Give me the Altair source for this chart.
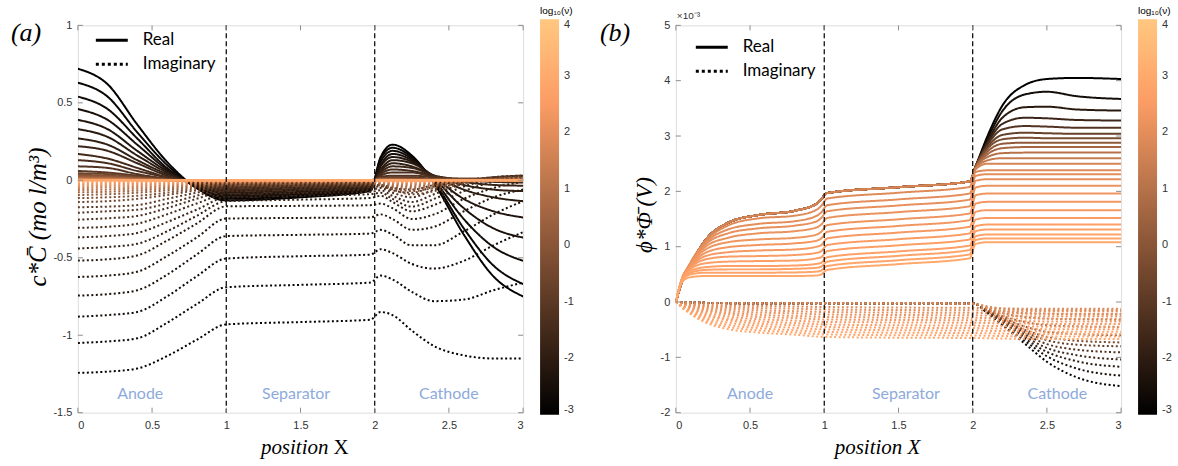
import altair as alt
import pandas as pd

# ---------------- Panel (a): concentration ----------------
XA = [0, 0.2, 0.4, 0.6, 0.8, 1.0, 1.5, 1.97, 2.04, 2.12, 2.25, 2.4, 2.6, 2.8, 3.0]
A_FREQ = [-3.0, -2.82, -2.64, -2.46, -2.28, -2.1, -1.92, -1.74, -1.56, -1.38, -1.2, -1.02,
          -0.6, -0.2, 0.2, 0.6, 1.0, 1.4, 1.8, 2.1, 2.3, 2.5, 2.7, 2.9]
A_REAL = [
    [0.72, 0.62, 0.36, 0.12, -0.05, -0.13, -0.11, -0.07, 0.15, 0.23, 0.16, -0.02, -0.35, -0.62, -0.75],
    [0.63, 0.54, 0.31, 0.10, -0.05, -0.12, -0.10, -0.065, 0.14, 0.21, 0.15, -0.01, -0.31, -0.55, -0.67],
    [0.54, 0.46, 0.27, 0.08, -0.04, -0.11, -0.09, -0.06, 0.12, 0.19, 0.14, 0.0, -0.25, -0.43, -0.52],
    [0.46, 0.39, 0.23, 0.07, -0.04, -0.10, -0.085, -0.055, 0.10, 0.17, 0.13, 0.01, -0.18, -0.31, -0.37],
    [0.39, 0.33, 0.19, 0.06, -0.03, -0.09, -0.075, -0.05, 0.09, 0.15, 0.12, 0.02, -0.12, -0.20, -0.24],
    [0.33, 0.28, 0.16, 0.05, -0.03, -0.08, -0.065, -0.045, 0.07, 0.13, 0.11, 0.03, -0.06, -0.11, -0.135],
    [0.27, 0.23, 0.13, 0.04, -0.02, -0.07, -0.055, -0.04, 0.06, 0.11, 0.09, 0.03, -0.03, -0.06, -0.07],
    [0.22, 0.19, 0.11, 0.03, -0.02, -0.06, -0.045, -0.03, 0.05, 0.09, 0.08, 0.03, -0.01, -0.03, -0.035],
    [0.17, 0.14, 0.08, 0.02, -0.02, -0.05, -0.035, -0.025, 0.04, 0.07, 0.06, 0.03, 0.0, -0.01, -0.015],
    [0.13, 0.11, 0.06, 0.02, -0.01, -0.04, -0.03, -0.02, 0.03, 0.05, 0.05, 0.02, 0.0, 0.0, 0.0],
    [0.09, 0.08, 0.04, 0.01, -0.01, -0.03, -0.02, -0.015, 0.02, 0.03, 0.03, 0.02, 0.01, 0.01, 0.01],
    [0.06, 0.05, 0.03, 0.01, -0.01, -0.02, -0.015, -0.01, 0.01, 0.02, 0.02, 0.01, 0.01, 0.01, 0.01],
    [0.045, 0.04, 0.022, 0.006, -0.006, -0.015, -0.01, 0.0, 0.015, 0.015, 0.012, 0.008, 0.006, 0.006, 0.006],
    [0.035, 0.03, 0.017, 0.004, -0.004, -0.01, -0.007, 0.0, 0.01, 0.01, 0.008, 0.006, 0.004, 0.004, 0.004],
    [0.026, 0.022, 0.012, 0.003, -0.003, -0.007, -0.005, 0.0, 0.007, 0.007, 0.006, 0.004, 0.003, 0.003, 0.003],
    [0.018, 0.015, 0.008, 0.002, -0.002, -0.005, -0.003, 0.0, 0.005, 0.005, 0.004, 0.003, 0.002, 0.002, 0.002],
    [0.012, 0.01, 0.005, 0.001, -0.001, -0.003, -0.002, 0.0, 0.003, 0.003, 0.002, 0.002, 0.001, 0.001, 0.001],
    [0.008, 0.006, 0.003, 0.001, 0.0, -0.002, -0.001, 0.0, 0.002, 0.002, 0.001, 0.001, 0.001, 0.0, 0.0],
    [0.005, 0.004, 0.002, 0.0, 0.0, -0.001, -0.001, 0.0, 0.001, 0.001, 0.001, 0.0, 0.0, 0.0, 0.0],
    [0.003, 0.002, 0.001, 0.0, 0.0, -0.001, 0.0, 0.0, 0.001, 0.001, 0.0, 0.0, 0.0, 0.0, 0.0],
    [0.002, 0.001, 0.001, 0.0, 0.0, 0.0, 0.0, 0.0, 0.0, 0.0, 0.0, 0.0, 0.0, 0.0, 0.0],
    [0.001, 0.001, 0.0, 0.0, 0.0, 0.0, 0.0, 0.0, 0.0, 0.0, 0.0, 0.0, 0.0, 0.0, 0.0],
    [0.0, 0.0, 0.0, 0.0, 0.0, 0.0, 0.0, 0.0, 0.0, 0.0, 0.0, 0.0, 0.0, 0.0, 0.0],
    [0.0, 0.0, 0.0, 0.0, 0.0, 0.0, 0.0, 0.0, 0.0, 0.0, 0.0, 0.0, 0.0, 0.0, 0.0],
]
A_IMAG = [
    [-1.243, -1.235, -1.215, -1.135, -1.03, -0.93, -0.915, -0.90, -0.85, -0.87, -0.97, -1.07, -1.13, -1.15, -1.15],
    [-1.05, -1.04, -1.02, -0.92, -0.80, -0.69, -0.675, -0.66, -0.615, -0.64, -0.72, -0.78, -0.77, -0.71, -0.66],
    [-0.88, -0.87, -0.85, -0.75, -0.62, -0.505, -0.49, -0.48, -0.445, -0.47, -0.54, -0.57, -0.52, -0.42, -0.335],
    [-0.744, -0.735, -0.71, -0.61, -0.48, -0.36, -0.352, -0.344, -0.32, -0.35, -0.42, -0.42, -0.33, -0.22, -0.135],
    [-0.624, -0.615, -0.59, -0.49, -0.37, -0.247, -0.243, -0.24, -0.22, -0.25, -0.32, -0.30, -0.20, -0.11, -0.06],
    [-0.518, -0.51, -0.485, -0.39, -0.28, -0.168, -0.165, -0.161, -0.15, -0.18, -0.25, -0.22, -0.12, -0.05, -0.01],
    [-0.44, -0.43, -0.41, -0.33, -0.23, -0.135, -0.125, -0.114, -0.10, -0.14, -0.20, -0.16, -0.07, -0.01, 0.02],
    [-0.368, -0.36, -0.34, -0.27, -0.19, -0.11, -0.10, -0.09, -0.08, -0.12, -0.17, -0.12, -0.04, 0.01, 0.03],
    [-0.307, -0.30, -0.28, -0.22, -0.15, -0.09, -0.082, -0.075, -0.065, -0.10, -0.14, -0.09, -0.02, 0.02, 0.03],
    [-0.254, -0.245, -0.23, -0.18, -0.12, -0.07, -0.065, -0.06, -0.05, -0.08, -0.11, -0.06, -0.01, 0.02, 0.03],
    [-0.21, -0.20, -0.19, -0.15, -0.10, -0.055, -0.05, -0.045, -0.04, -0.065, -0.08, -0.04, 0.0, 0.02, 0.03],
    [-0.174, -0.17, -0.16, -0.12, -0.08, -0.045, -0.04, -0.035, -0.03, -0.05, -0.06, -0.03, 0.0, 0.015, 0.025],
    [-0.14, -0.135, -0.12, -0.095, -0.065, -0.04, -0.035, -0.03, -0.035, -0.06, -0.09, -0.07, -0.02, 0.01, 0.02],
    [-0.115, -0.11, -0.10, -0.08, -0.055, -0.033, -0.028, -0.024, -0.028, -0.05, -0.07, -0.05, -0.015, 0.008, 0.015],
    [-0.095, -0.09, -0.08, -0.065, -0.045, -0.027, -0.022, -0.019, -0.022, -0.04, -0.055, -0.038, -0.01, 0.006, 0.012],
    [-0.078, -0.074, -0.066, -0.053, -0.037, -0.022, -0.018, -0.015, -0.018, -0.032, -0.043, -0.028, -0.008, 0.004, 0.009],
    [-0.063, -0.06, -0.053, -0.043, -0.03, -0.018, -0.014, -0.012, -0.014, -0.025, -0.033, -0.02, -0.006, 0.003, 0.007],
    [-0.05, -0.047, -0.042, -0.034, -0.024, -0.014, -0.011, -0.009, -0.011, -0.019, -0.025, -0.015, -0.004, 0.002, 0.005],
    [-0.039, -0.036, -0.032, -0.026, -0.018, -0.011, -0.008, -0.007, -0.008, -0.014, -0.018, -0.011, -0.003, 0.001, 0.004],
    [-0.03, -0.027, -0.024, -0.019, -0.013, -0.008, -0.006, -0.005, -0.006, -0.01, -0.013, -0.008, -0.002, 0.001, 0.003],
    [-0.022, -0.02, -0.017, -0.014, -0.009, -0.006, -0.004, -0.003, -0.004, -0.007, -0.009, -0.005, -0.001, 0.0, 0.002],
    [-0.015, -0.013, -0.011, -0.009, -0.006, -0.004, -0.003, -0.002, -0.003, -0.005, -0.006, -0.003, -0.001, 0.0, 0.001],
    [-0.009, -0.008, -0.007, -0.005, -0.004, -0.002, -0.002, -0.001, -0.002, -0.003, -0.004, -0.002, 0.0, 0.0, 0.001],
    [-0.004, -0.004, -0.003, -0.002, -0.002, -0.001, -0.001, 0.0, -0.001, -0.001, -0.002, -0.001, 0.0, 0.0, 0.0],
]

# ---------------- Panel (b): potential (x 1e-3 V) ----------------
XB_REAL = [0, 0.04, 0.1, 0.2, 0.35, 0.55, 0.8, 0.95, 0.98, 1.02, 1.5, 1.98,
           2.02, 2.1, 2.2, 2.35, 2.5, 2.7, 3.0]
XB_IMAG = [0, 0.04, 0.1, 0.2, 0.35, 0.55, 0.8, 1.0, 1.5, 2.0, 2.1, 2.2, 2.35, 2.5, 2.7, 3.0]
B_FREQ = [-3.0, -2.55, -2.1, -1.65, -1.2, -0.75, -0.3, 0.15, 0.6, 1.0, 1.35, 1.7,
          1.9, 2.0, 2.08, 2.16, 2.24, 2.32, 2.4, 2.48, 2.56, 2.64, 2.72, 2.8, 2.9]

B_REAL_DARK_HEAD = [0, 0.36, 0.68, 1.12, 1.43, 1.57, 1.65, 1.78, 1.86, 1.97, 2.075, 2.18]
B_REAL_DARK_TAIL = [
    [2.45, 3.0, 3.55, 3.92, 4.03, 4.05, 4.03],
    [2.45, 2.95, 3.45, 3.75, 3.8, 3.72, 3.67],
    [2.45, 2.9, 3.33, 3.52, 3.53, 3.48, 3.46],
    [2.45, 2.87, 3.22, 3.33, 3.32, 3.29, 3.28],
    [2.45, 2.84, 3.12, 3.18, 3.17, 3.15, 3.15],
    [2.45, 2.8, 3.02, 3.06, 3.05, 3.04, 3.04],
    [2.45, 2.77, 2.94, 2.97, 2.96, 2.96, 2.96],
    [2.44, 2.72, 2.86, 2.88, 2.88, 2.88, 2.88],
    [2.43, 2.67, 2.78, 2.8, 2.8, 2.8, 2.8],
    [2.42, 2.62, 2.69, 2.7, 2.7, 2.7, 2.7],
    [2.41, 2.56, 2.6, 2.6, 2.6, 2.6, 2.6],
    [2.4, 2.5, 2.5, 2.5, 2.5, 2.5, 2.5],
]
B_REAL_LIGHT = [
    [0, 0.38, 0.72, 1.10, 1.38, 1.51, 1.56, 1.67, 1.74, 1.87, 1.975, 2.08, 2.35, 2.38, 2.38, 2.38, 2.38, 2.38, 2.38],
    [0, 0.39, 0.71, 1.07, 1.31, 1.41, 1.46, 1.56, 1.62, 1.75, 1.855, 1.96, 2.28, 2.31, 2.31, 2.31, 2.31, 2.31, 2.31],
    [0, 0.40, 0.70, 1.04, 1.24, 1.33, 1.38, 1.46, 1.52, 1.64, 1.745, 1.85, 2.19, 2.22, 2.22, 2.22, 2.22, 2.22, 2.22],
    [0, 0.41, 0.69, 1.00, 1.16, 1.24, 1.28, 1.35, 1.40, 1.52, 1.625, 1.73, 2.07, 2.10, 2.10, 2.10, 2.10, 2.10, 2.10],
    [0, 0.41, 0.68, 0.95, 1.08, 1.13, 1.16, 1.22, 1.27, 1.39, 1.495, 1.60, 1.93, 1.96, 1.96, 1.96, 1.96, 1.96, 1.96],
    [0, 0.41, 0.66, 0.89, 0.99, 1.03, 1.06, 1.11, 1.15, 1.27, 1.375, 1.48, 1.78, 1.81, 1.81, 1.81, 1.81, 1.81, 1.81],
    [0, 0.41, 0.64, 0.83, 0.90, 0.93, 0.95, 1.00, 1.03, 1.15, 1.255, 1.36, 1.63, 1.66, 1.66, 1.66, 1.66, 1.66, 1.66],
    [0, 0.40, 0.62, 0.77, 0.82, 0.83, 0.85, 0.89, 0.92, 1.03, 1.135, 1.24, 1.49, 1.52, 1.52, 1.52, 1.52, 1.52, 1.52],
    [0, 0.40, 0.60, 0.70, 0.73, 0.74, 0.75, 0.79, 0.81, 0.92, 1.025, 1.13, 1.37, 1.40, 1.40, 1.40, 1.40, 1.40, 1.40],
    [0, 0.39, 0.56, 0.63, 0.65, 0.65, 0.66, 0.69, 0.71, 0.81, 0.915, 1.02, 1.28, 1.31, 1.31, 1.31, 1.31, 1.31, 1.31],
    [0, 0.38, 0.53, 0.58, 0.59, 0.59, 0.60, 0.62, 0.64, 0.73, 0.835, 0.94, 1.19, 1.22, 1.22, 1.22, 1.22, 1.22, 1.22],
    [0, 0.37, 0.50, 0.53, 0.53, 0.53, 0.535, 0.55, 0.57, 0.65, 0.755, 0.86, 1.12, 1.15, 1.15, 1.15, 1.15, 1.15, 1.15],
    [0, 0.36, 0.45, 0.47, 0.47, 0.47, 0.47, 0.48, 0.50, 0.58, 0.685, 0.79, 1.05, 1.08, 1.08, 1.08, 1.08, 1.08, 1.08],
]
B_IMAG_DARK_HEAD = [0, -0.005, -0.01, -0.015, -0.02, -0.02, -0.02, -0.02, -0.02]
B_IMAG_DARK_TAIL = [
    [-0.02, -0.2, -0.42, -0.75, -1.08, -1.36, -1.52],
    [-0.02, -0.19, -0.4, -0.7, -0.98, -1.2, -1.33],
    [-0.02, -0.18, -0.38, -0.66, -0.9, -1.07, -1.17],
    [-0.02, -0.17, -0.36, -0.62, -0.83, -0.96, -1.04],
    [-0.02, -0.16, -0.34, -0.58, -0.76, -0.86, -0.91],
    [-0.03, -0.16, -0.32, -0.54, -0.69, -0.77, -0.8],
    [-0.03, -0.15, -0.3, -0.5, -0.63, -0.7, -0.73],
    [-0.03, -0.14, -0.28, -0.44, -0.54, -0.58, -0.6],
    [-0.03, -0.13, -0.25, -0.36, -0.42, -0.44, -0.45],
    [-0.03, -0.12, -0.2, -0.27, -0.3, -0.31, -0.32],
    [-0.03, -0.1, -0.16, -0.2, -0.21, -0.22, -0.22],
    [-0.03, -0.08, -0.12, -0.14, -0.15, -0.15, -0.15],
]
B_IMAG_LIGHT = [
    [0, -0.015, -0.03, -0.045, -0.06, -0.07, -0.08, -0.09, -0.1, -0.105, -0.11, -0.115, -0.12, -0.12, -0.12, -0.12],
    [0, -0.025, -0.045, -0.07, -0.09, -0.11, -0.12, -0.135, -0.145, -0.15, -0.155, -0.16, -0.165, -0.165, -0.165, -0.165],
    [0, -0.03, -0.06, -0.09, -0.12, -0.15, -0.165, -0.18, -0.19, -0.195, -0.2, -0.205, -0.21, -0.21, -0.21, -0.21],
    [0, -0.04, -0.075, -0.115, -0.155, -0.19, -0.205, -0.225, -0.235, -0.24, -0.245, -0.25, -0.255, -0.255, -0.255, -0.255],
    [0, -0.045, -0.09, -0.14, -0.19, -0.23, -0.25, -0.27, -0.28, -0.285, -0.29, -0.295, -0.3, -0.3, -0.3, -0.3],
    [0, -0.05, -0.1, -0.16, -0.22, -0.27, -0.29, -0.315, -0.325, -0.33, -0.335, -0.34, -0.345, -0.35, -0.35, -0.35],
    [0, -0.06, -0.12, -0.19, -0.26, -0.31, -0.335, -0.36, -0.37, -0.375, -0.38, -0.385, -0.39, -0.395, -0.395, -0.395],
    [0, -0.07, -0.14, -0.22, -0.3, -0.35, -0.38, -0.405, -0.42, -0.425, -0.43, -0.435, -0.44, -0.445, -0.445, -0.445],
    [0, -0.075, -0.16, -0.25, -0.33, -0.39, -0.42, -0.45, -0.465, -0.47, -0.475, -0.48, -0.485, -0.49, -0.49, -0.49],
    [0, -0.08, -0.17, -0.28, -0.37, -0.43, -0.465, -0.495, -0.51, -0.515, -0.52, -0.525, -0.53, -0.535, -0.535, -0.535],
    [0, -0.085, -0.19, -0.31, -0.41, -0.47, -0.51, -0.54, -0.555, -0.56, -0.565, -0.57, -0.575, -0.58, -0.58, -0.58],
    [0, -0.09, -0.2, -0.34, -0.45, -0.51, -0.55, -0.585, -0.6, -0.605, -0.61, -0.615, -0.62, -0.625, -0.625, -0.625],
    [0, -0.1, -0.22, -0.37, -0.49, -0.55, -0.59, -0.63, -0.645, -0.65, -0.655, -0.66, -0.665, -0.67, -0.67, -0.67],
]
B_REAL = [B_REAL_DARK_HEAD + t for t in B_REAL_DARK_TAIL] + B_REAL_LIGHT
B_IMAG = [B_IMAG_DARK_HEAD + t for t in B_IMAG_DARK_TAIL] + B_IMAG_LIGHT

REGIONS = ["Anode", "Separator", "Cathode"]
A_REGION_X = [0.42, 1.47, 2.5]
B_REGION_X = [0.5, 1.55, 2.57]
X_TICKS = [0, 0.5, 1, 1.5, 2, 2.5, 3]
A_Y_TICKS = [-1.5, -1, -0.5, 0, 0.5, 1]
B_Y_TICKS = [-2, -1, 0, 1, 2, 3, 4, 5]
CBAR_TICKS = [-3, -2, -1, 0, 1, 2, 3, 4]


def build(freqs, xr, reals, xi, imags):
    rows = []
    for i, f in enumerate(freqs):
        for kind, grid, vals in (("Real", xr, reals[i]), ("Imaginary", xi, imags[i])):
            assert len(grid) == len(vals), (i, kind, len(vals))
            cid = "%02d%s" % (i, "a" if kind == "Real" else "b")
            for x, y in zip(grid, vals):
                rows.append({"curve": cid, "x": x, "y": y, "logf": f, "kind": kind})
    return pd.DataFrame(rows)


dfA = build(A_FREQ, XA, A_REAL, XA, A_IMAG)
dfB = build(B_FREQ, XB_REAL, B_REAL, XB_IMAG, B_IMAG)

W, H = 446, 388
SERIF = "Liberation Serif"
SANS = "Liberation Sans"
FRAME = "#8c8c8c"
one = pd.DataFrame({"k": [0]})


def panel(df, ydom, yticks, region_x, region_y, letter, ytitle, ytitle_x, ytitle_size,
          ytitle_y, leg_y0, leg_x0, xt_center, split_title):
    xs = alt.Scale(domain=[0, 3], nice=False)
    ys = alt.Scale(domain=ydom, nice=False)
    xaxis = alt.Axis(values=X_TICKS, labelExpr="'' + datum.value", title=None, grid=False,
                     ticks=False, domain=False, labelFont=SANS, labelFontSize=11,
                     labelColor="#333333", labelPadding=7)
    yaxis = alt.Axis(values=yticks, labelExpr="'' + datum.value", title=None, grid=False,
                     ticks=False, domain=False, labelFont=SANS, labelFontSize=11,
                     labelColor="#333333", labelPadding=6)
    lines = alt.Chart(df).mark_line(strokeWidth=2, interpolate="monotone", clip=True).encode(
        x=alt.X("x:Q", scale=xs, axis=xaxis),
        y=alt.Y("y:Q", scale=ys, axis=yaxis),
        color=alt.Color("logf:Q",
                        scale=alt.Scale(domain=[-3, 2.6, 4],
                                        range=["#000000", "#ff9f66", "#ffc77f"],
                                        interpolate="rgb"),
                        legend=alt.Legend(orient="none", legendX=W + 17, legendY=-19,
                                          direction="vertical", gradientLength=396,
                                          gradientThickness=19, title="log₁₀(ν)",
                                          titleFont=SANS, titleFontSize=10,
                                          titleFontWeight="normal", titlePadding=3,
                                          labelFont=SANS, labelFontSize=11,
                                          labelColor="#333333", values=CBAR_TICKS,
                                          labelExpr="'' + datum.value", padding=0,
                                          gradientStrokeWidth=0, labelOffset=5)),
        strokeDash=alt.StrokeDash("kind:N",
                                  scale=alt.Scale(domain=["Real", "Imaginary"],
                                                  range=[[1, 0], [2, 2.5]]),
                                  legend=None),
        detail="curve:N",
    )
    bounds = pd.DataFrame({"bx": [1, 2]})
    rules = alt.Chart(bounds).mark_rule(color="#111111", strokeWidth=1.3,
                                        strokeDash=[5, 3]).encode(x=alt.X("bx:Q", scale=xs))
    reg = pd.DataFrame({"name": REGIONS, "rx": region_x, "ry": [region_y] * 3})
    regions = alt.Chart(reg).mark_text(font="Lato", fontSize=16, color="#8eaadc").encode(
        x=alt.X("rx:Q", scale=xs), y=alt.Y("ry:Q", scale=ys), text="name:N")

    xt = pd.DataFrame({"tx": X_TICKS})
    yt = pd.DataFrame({"ty": yticks})
    tick_layers = [
        alt.Chart(xt).mark_rule(color=FRAME).encode(
            x=alt.X("tx:Q", scale=xs), y=alt.value(H), y2=alt.value(H - 5)),
        alt.Chart(xt).mark_rule(color=FRAME).encode(
            x=alt.X("tx:Q", scale=xs), y=alt.value(0), y2=alt.value(5)),
        alt.Chart(yt).mark_rule(color=FRAME).encode(
            y=alt.Y("ty:Q", scale=ys), x=alt.value(0), x2=alt.value(5)),
        alt.Chart(yt).mark_rule(color=FRAME).encode(
            y=alt.Y("ty:Q", scale=ys), x=alt.value(W), x2=alt.value(W - 5)),
    ]

    base = alt.Chart(one)
    deco = [
        base.mark_rule(color="black", strokeWidth=3).encode(
            x=alt.value(leg_x0), x2=alt.value(leg_x0 + 32), y=alt.value(leg_y0)),
        base.mark_rule(color="black", strokeWidth=3, strokeDash=[3, 3]).encode(
            x=alt.value(leg_x0), x2=alt.value(leg_x0 + 32), y=alt.value(leg_y0 + 24)),
        base.mark_text(text="Real", font="Lato", fontSize=17, align="left",
                       baseline="middle", color="black").encode(
            x=alt.value(leg_x0 + 47), y=alt.value(leg_y0)),
        base.mark_text(text="Imaginary", font="Lato", fontSize=17, align="left",
                       baseline="middle", color="black").encode(
            x=alt.value(leg_x0 + 47), y=alt.value(leg_y0 + 24)),
        base.mark_text(text=letter[0], font=SERIF, fontSize=26, fontStyle="italic",
                       align="left", baseline="middle", color="black").encode(
            x=alt.value(letter[1]), y=alt.value(8)),
        base.mark_text(text=ytitle, font=SERIF, fontSize=ytitle_size, fontStyle="italic",
                       align="center", baseline="middle", angle=270, color="black").encode(
            x=alt.value(ytitle_x), y=alt.value(ytitle_y)),
    ]
    if split_title:
        deco += [
            base.mark_text(text="position", font=SERIF, fontSize=21, fontStyle="italic",
                           align="right", baseline="middle", color="black").encode(
                x=alt.value(xt_center + 27), y=alt.value(H + 35)),
            base.mark_text(text="X", font=SERIF, fontSize=21, align="left",
                           baseline="middle", color="black").encode(
                x=alt.value(xt_center + 32), y=alt.value(H + 35)),
        ]
    else:
        deco += [
            base.mark_text(text="position X", font=SERIF, fontSize=21, fontStyle="italic",
                           align="center", baseline="middle", color="black").encode(
                x=alt.value(xt_center), y=alt.value(H + 35)),
            base.mark_text(text="×10⁻³", font=SANS, fontSize=10, align="left",
                           baseline="middle", color="#333333").encode(
                x=alt.value(1), y=alt.value(-9)),
        ]
    return alt.layer(lines, rules, regions, *tick_layers, *deco).properties(width=W, height=H)


chartA = panel(dfA, [-1.5, 1], A_Y_TICKS, A_REGION_X, -1.378, ("(a)", -67),
               "c*C̄  (mo l/m³)", -40, 25, 192, 15, 18, 224, True)
chartB = panel(dfB, [-2, 5], B_Y_TICKS, B_REGION_X, -1.66, ("(b)", -76),
               "ϕ*Φ̄ (V)", -31, 23, 190, 22, 20, 202, False)

chart = alt.hconcat(chartA, chartB, spacing=153, bounds="flush").resolve_scale(
    color="independent").resolve_legend(color="independent").properties(
    padding={"left": 10, "top": 5, "right": 5, "bottom": 5}
).configure_view(stroke=FRAME, strokeWidth=1).configure(background="white")

chart.save("out.html", embed_options={"renderer": "svg", "actions": False})
